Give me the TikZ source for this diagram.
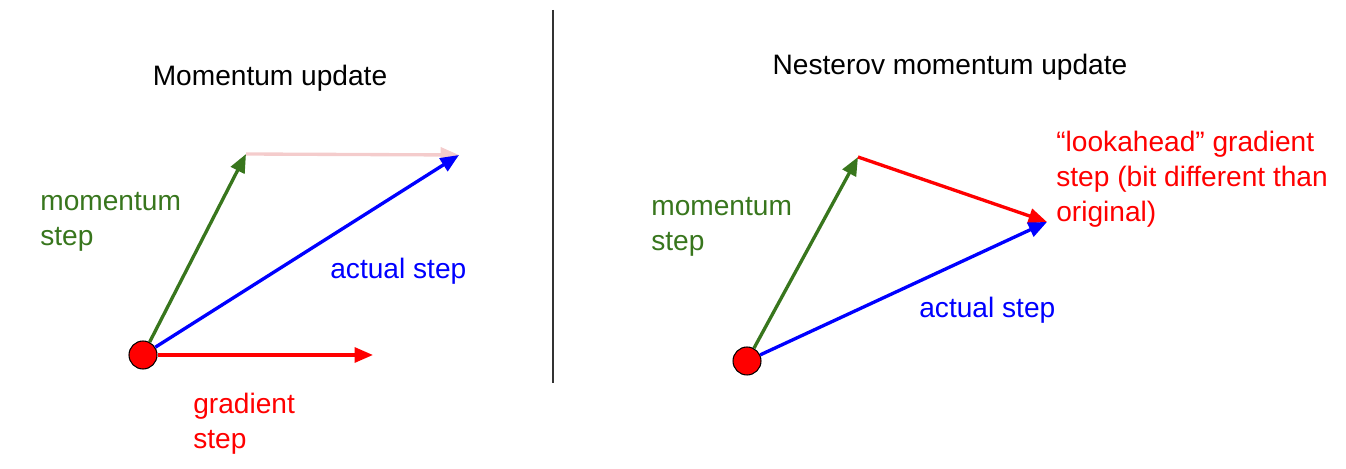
\documentclass[tikz,border=0pt]{standalone}
\usepackage{fontspec}
\setmainfont{Liberation Sans}
\usepackage{xcolor}
\usetikzlibrary{arrows.meta,positioning}
\definecolor{momgreen}{HTML}{38761D}
\definecolor{stepblue}{HTML}{0000FF}
\definecolor{gradred}{HTML}{FF0000}
\definecolor{ghostred}{HTML}{F4CCCC}

\begin{document}
\begin{tikzpicture}[x=0.02cm,y=-0.02cm,font=\fontsize{16}{20}\selectfont,>={Triangle[length=10.5pt,width=8.5pt]}]
\tikzset{dot/.style={circle,draw=black,fill=gradred,minimum size=0.56cm,inner sep=0pt,line width=0.6pt}, vec/.style={->,line width=1.9pt}, lbl/.style={align=left,anchor=west,inner sep=0pt}}
\useasboundingbox (0,0) rectangle (1346,469);
% left: momentum update
\node (titleL) at (270,78) {Momentum update};
\node[dot] (dotL) at (143,355) {};
\coordinate (momL) at (246,154);
\coordinate (actL) at (459,155);
\coordinate (gradL) at (373,355);
\draw[vec,ghostred] (momL) -- (actL);
\draw[vec,momgreen] (dotL) -- (momL);
\draw[vec,stepblue] (dotL) -- (actL);
\draw[vec,gradred] (dotL) -- (gradL);
\node[lbl,text=momgreen] (momtxtL) at (40,222) {momentum\\step};
\node[lbl,text=stepblue] (acttxtL) at (330,271) {actual step};
\node[lbl,text=gradred] (gradtxtL) at (193,424) {gradient\\step};
% divider
\coordinate (divtop) at (553,10);
\coordinate (divbot) at (553,383);
\draw[line width=1pt,black!80] (divtop) -- (divbot);
% right: nesterov
\node (titleR) at (950,67) {Nesterov momentum update};
\node[dot] (dotR) at (747,361) {};
\coordinate (momR) at (858,157);
\coordinate (actR) at (1047,222);
\draw[vec,momgreen] (dotR) -- (momR);
\draw[vec,gradred] (momR) -- (actR);
\draw[vec,stepblue] (dotR) -- (actR);
\node[lbl,text=momgreen] (momtxtR) at (651,227) {momentum\\step};
\node[lbl,text=stepblue] (acttxtR) at (919,310) {actual step};
\node[lbl,text=gradred] (looktxtR) at (1056,179) {“lookahead” gradient\\step (bit different than\\original)};
\end{tikzpicture}
\end{document}
